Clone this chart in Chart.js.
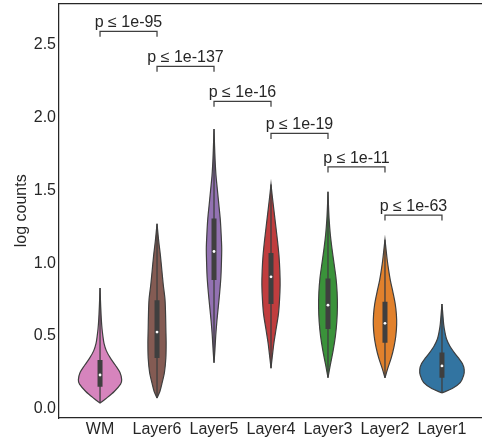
<!DOCTYPE html>
<html>
<head>
<meta charset="utf-8">
<script src="https://cdn.jsdelivr.net/npm/chart.js@4/dist/chart.umd.min.js"></script>
<style>
  html, body { margin: 0; padding: 0; background: #fff; overflow: hidden; }
  #wrap { width: 482px; height: 438px; overflow: hidden; position: relative; }
  canvas { display: block; margin-top: -9px; }
</style>
</head>
<body>
<div id="wrap"><canvas id="c" width="500" height="447"></canvas></div>
<script>
// Categories (cortical layers) and their violin colours
const categories = ['WM', 'Layer6', 'Layer5', 'Layer4', 'Layer3', 'Layer2', 'Layer1'];
const colors = ['#d684bd', '#845b53', '#9372b2', '#c03d3e', '#3a923a', '#e1812c', '#3274a1'];

// Density profiles: [log count, half-width of the violin in category units]
const profileWM = [[0.04,0],[0.07,0.10],[0.12,0.25],[0.17,0.36],[0.20,0.38],[0.25,0.35],[0.30,0.27],[0.35,0.18],[0.40,0.11],[0.45,0.07],[0.50,0.05],[0.55,0.035],[0.60,0.025],[0.70,0.012],[0.83,0]];
const profileL6 = [[0.075,0],[0.12,0.05],[0.18,0.09],[0.25,0.13],[0.35,0.155],[0.45,0.16],[0.55,0.155],[0.65,0.15],[0.75,0.14],[0.85,0.11],[0.95,0.085],[1.05,0.06],[1.15,0.03],[1.27,0]];
const profileL5 = [[0.317,0],[0.40,0.015],[0.50,0.03],[0.60,0.05],[0.70,0.075],[0.80,0.10],[0.90,0.12],[1.00,0.13],[1.10,0.135],[1.20,0.125],[1.30,0.11],[1.40,0.085],[1.50,0.06],[1.60,0.035],[1.70,0.02],[1.80,0.01],[1.92,0]];
const profileL4 = [[0.28,0],[0.35,0.02],[0.45,0.05],[0.55,0.09],[0.65,0.13],[0.75,0.15],[0.85,0.16],[0.95,0.155],[1.05,0.14],[1.15,0.115],[1.25,0.085],[1.35,0.055],[1.45,0.025],[1.54,0]];
const profileL3 = [[0.214,0],[0.30,0.04],[0.40,0.09],[0.50,0.13],[0.60,0.155],[0.70,0.165],[0.80,0.16],[0.90,0.14],[1.00,0.105],[1.10,0.07],[1.20,0.04],[1.30,0.02],[1.40,0.008],[1.49,0]];
const profileL2 = [[0.214,0],[0.28,0.05],[0.35,0.11],[0.43,0.16],[0.50,0.19],[0.58,0.205],[0.65,0.20],[0.72,0.18],[0.80,0.14],[0.88,0.095],[0.95,0.065],[1.02,0.04],[1.09,0.02],[1.16,0]];
const profileL1 = [[0.11,0],[0.14,0.18],[0.18,0.32],[0.23,0.38],[0.27,0.39],[0.31,0.36],[0.35,0.29],[0.39,0.21],[0.43,0.14],[0.48,0.08],[0.53,0.05],[0.58,0.03],[0.65,0.015],[0.72,0]];
const profiles = [profileWM, profileL6, profileL5, profileL4, profileL3, profileL2, profileL1];

// Inner box statistics
const q1 = [0.153, 0.349, 0.884, 0.72, 0.548, 0.454, 0.214];
const medians = [0.233, 0.527, 1.08, 0.906, 0.712, 0.587, 0.295];
const q3 = [0.336, 0.746, 1.306, 1.07, 0.895, 0.735, 0.388];

// Significance brackets between neighbouring layers
const bracketHeights = [2.59, 2.35, 2.11, 1.89, 1.66, 1.33];
const pLabels = ['p ≤ 1e-95', 'p ≤ 1e-137', 'p ≤ 1e-16', 'p ≤ 1e-19', 'p ≤ 1e-11', 'p ≤ 1e-63'];
const bracketDrop = 0.038;

const FONT = '"Liberation Sans", Arial, sans-serif';
const TEXT = '#262626';
const EDGE = '#3f3f3f';

// Closed outline: right side bottom-to-top, then left side top-to-bottom
function outline(i) {
  const p = profiles[i];
  const right = p.map(([y, w]) => ({ x: i + w, y }));
  const left = p.slice().reverse().map(([y, w]) => ({ x: i - w, y }));
  return right.concat(left);
}

const datasets = [];
categories.forEach((name, i) => {
  const p = profiles[i];
  datasets.push({
    label: name, data: outline(i), showLine: true, fill: 'shape',
    backgroundColor: colors[i], borderColor: EDGE, borderWidth: 1.2,
    pointRadius: 0, tension: 0.3, order: 4
  });
  datasets.push({
    label: name + ' range', data: [{ x: i, y: p[0][0] }, { x: i, y: p[p.length - 1][0] }],
    showLine: true, borderColor: EDGE, borderWidth: 1.3, pointRadius: 0, order: 3
  });
  datasets.push({
    label: name + ' IQR', data: [{ x: i, y: q1[i] }, { x: i, y: q3[i] }],
    showLine: true, borderColor: EDGE, borderWidth: 5, borderCapStyle: 'butt', pointRadius: 0, order: 2
  });
});
datasets.push({
  label: 'median', data: medians.map((m, i) => ({ x: i, y: m })),
  showLine: false, pointRadius: 1.4, pointBackgroundColor: '#ffffff', pointBorderWidth: 0, order: 1
});
bracketHeights.forEach((h, i) => {
  datasets.push({
    label: pLabels[i],
    data: [{ x: i, y: h - bracketDrop }, { x: i, y: h }, { x: i + 1, y: h }, { x: i + 1, y: h - bracketDrop }],
    showLine: true, borderColor: EDGE, borderWidth: 1.25, pointRadius: 0, order: 0
  });
});

// p-value text above each bracket, plus the top spine
const annotate = {
  id: 'annotate',
  afterDraw(chart) {
    const { ctx, chartArea, scales: { x, y } } = chart;
    ctx.save();
    ctx.font = '16px ' + FONT;
    ctx.fillStyle = TEXT;
    ctx.textAlign = 'center';
    ctx.textBaseline = 'alphabetic';
    pLabels.forEach((t, i) => {
      ctx.fillText(t, x.getPixelForValue(i + 0.5), y.getPixelForValue(bracketHeights[i]) - 4);
    });
    ctx.strokeStyle = TEXT;
    ctx.lineWidth = 1.25;
    ctx.beginPath();
    ctx.moveTo(chartArea.left, chartArea.top);
    ctx.lineTo(chartArea.right, chartArea.top);
    ctx.stroke();
    ctx.restore();
  }
};

new Chart(document.getElementById('c'), {
  type: 'scatter',
  data: { datasets },
  plugins: [annotate],
  options: {
    responsive: false,
    animation: false,
    devicePixelRatio: 1,
    layout: { padding: { top: 3, right: 17, left: 0, bottom: 0 } },
    plugins: { legend: { display: false }, tooltip: { enabled: false } },
    scales: {
      x: {
        type: 'linear', min: -0.72, max: 6.72,
        grid: { display: false, drawTicks: false },
        border: { display: true, color: TEXT, width: 1.25 },
        ticks: {
          stepSize: 1, includeBounds: false, autoSkip: false, maxRotation: 0, padding: 2,
          color: TEXT, font: { family: FONT, size: 16 },
          callback: v => categories[v] ?? ''
        },
        afterFit(scale) { scale.height = 20; }
      },
      y: {
        type: 'linear', min: -0.062, max: 2.78,
        grid: { display: false, drawTicks: false },
        border: { display: true, color: TEXT, width: 1.25 },
        ticks: {
          stepSize: 0.5, includeBounds: false, padding: 3,
          color: TEXT, font: { family: FONT, size: 16 },
          callback: v => v.toFixed(1)
        },
        title: {
          display: true, text: 'log counts', color: TEXT,
          font: { family: FONT, size: 16 }, padding: { top: 12, bottom: 0 }
        },
        afterFit(scale) { scale.width = 59; }
      }
    }
  }
});
</script>
</body>
</html>
